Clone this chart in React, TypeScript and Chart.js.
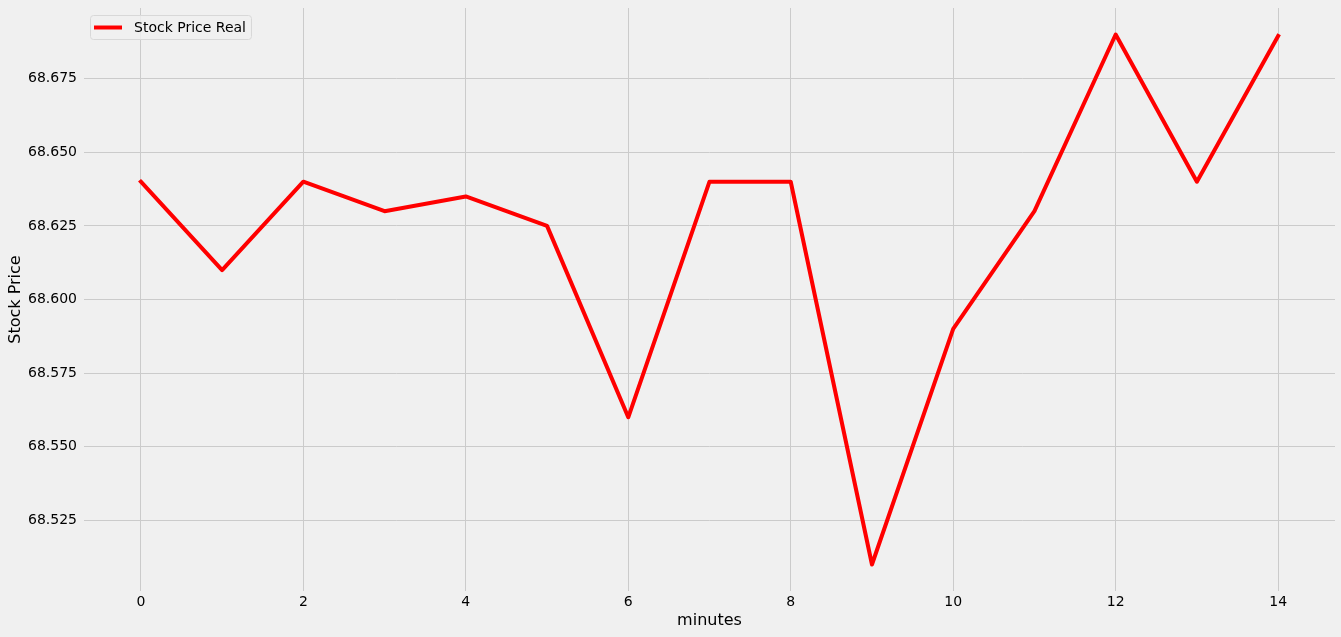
import { useEffect, useRef } from "react";
import { Chart, registerables } from "chart.js";

Chart.register(...registerables);

const MINUTES = [0, 1, 2, 3, 4, 5, 6, 7, 8, 9, 10, 11, 12, 13, 14];
const PRICES = [
  68.64, 68.61, 68.64, 68.63, 68.635, 68.625, 68.56, 68.64, 68.64, 68.51, 68.59,
  68.63, 68.69, 68.64, 68.6895,
];
const X_TICKS = [0, 2, 4, 6, 8, 10, 12, 14];
const Y_TICKS = [68.525, 68.55, 68.575, 68.6, 68.625, 68.65, 68.675];
const SERIES_LABEL = "Stock Price Real";
const X_TITLE = "minutes";
const Y_TITLE = "Stock Price";

const FONT = "'DejaVu Sans', sans-serif";

const legendPlugin = {
  id: "mplLegend",
  afterDraw(chart: any) {
    const ctx = chart.ctx as CanvasRenderingContext2D;
    const ca = chart.chartArea;
    const ds = chart.data.datasets[0];
    ctx.save();
    ctx.font = `14px ${FONT}`;
    const tw = ctx.measureText(ds.label).width;
    const x = ca.left + 6;
    const y = ca.top + 7;
    const w = 44 + tw + 5;
    const h = 24;
    ctx.beginPath();
    (ctx as any).roundRect(x + 0.5, y + 0.5, w, h, 3);
    ctx.fillStyle = "rgba(240,240,240,0.8)";
    ctx.fill();
    ctx.strokeStyle = "#d8d8d8";
    ctx.lineWidth = 1;
    ctx.stroke();
    ctx.beginPath();
    ctx.moveTo(x + 4, y + h / 2 + 0.5);
    ctx.lineTo(x + 32, y + h / 2 + 0.5);
    ctx.strokeStyle = ds.borderColor;
    ctx.lineWidth = ds.borderWidth;
    ctx.lineCap = "butt";
    ctx.stroke();
    ctx.fillStyle = "#000";
    ctx.textBaseline = "middle";
    ctx.textAlign = "left";
    ctx.fillText(ds.label, x + 44, y + h / 2 + 1);
    ctx.restore();
  },
};

export default function App() {
  const ref = useRef<HTMLCanvasElement | null>(null);

  useEffect(() => {
    if (!ref.current) return;
    const xMin = Math.min(...MINUTES);
    const xMax = Math.max(...MINUTES);
    const xPad = (xMax - xMin) * 0.05;
    const yMin = Math.min(...PRICES);
    const yMax = Math.max(...PRICES);
    const yPad = (yMax - yMin) * 0.05;

    const chart = new Chart(ref.current, {
      type: "line",
      data: {
        datasets: [
          {
            label: SERIES_LABEL,
            data: MINUTES.map((m, i) => ({ x: m, y: PRICES[i] })),
            borderColor: "#ff0000",
            backgroundColor: "#ff0000",
            borderWidth: 4,
            borderJoinStyle: "round",
            borderCapStyle: "square",
            pointRadius: 0,
            tension: 0,
            fill: false,
          },
        ],
      },
      options: {
        responsive: false,
        animation: false,
        devicePixelRatio: 1,
        layout: { padding: { top: 8, right: 6, left: 0, bottom: 0 } },
        plugins: {
          legend: { display: false },
          tooltip: { enabled: false },
        },
        scales: {
          x: {
            type: "linear",
            min: xMin - xPad,
            max: xMax + xPad,
            afterFit: (s: any) => {
              s.height = 46;
              s.paddingLeft = 0;
              s.paddingRight = 0;
            },
            afterBuildTicks: (s: any) => {
              s.ticks = X_TICKS.map((v) => ({ value: v }));
            },
            grid: { color: "#cbcbcb", lineWidth: 1, drawTicks: false },
            border: { display: false },
            ticks: {
              padding: 3,
              color: "#000",
              font: { family: FONT, size: 14 },
              maxRotation: 0,
              callback: (v: any) => String(v),
            },
            title: {
              display: true,
              text: X_TITLE,
              color: "#000",
              font: { family: FONT, size: 16 },
              padding: { top: 0, bottom: 7 },
            },
          },
          y: {
            type: "linear",
            min: yMin - yPad,
            max: yMax + yPad,
            afterFit: (s: any) => {
              s.width = 84;
              s.paddingTop = 0;
              s.paddingBottom = 0;
            },
            afterBuildTicks: (s: any) => {
              s.ticks = Y_TICKS.map((v) => ({ value: v }));
            },
            grid: { color: "#cbcbcb", lineWidth: 1, drawTicks: false },
            border: { display: false },
            ticks: {
              padding: 7,
              color: "#000",
              font: { family: FONT, size: 14 },
              callback: (v: any) => Number(v).toFixed(3),
            },
            title: {
              display: true,
              text: Y_TITLE,
              color: "#000",
              font: { family: FONT, size: 16 },
              padding: { top: 6, bottom: 0 },
            },
          },
        },
      },
      plugins: [legendPlugin],
    } as any);
    return () => chart.destroy();
  }, []);

  return (
    <div
      style={{
        position: "fixed",
        left: 0,
        top: 0,
        width: 1341,
        height: 637,
        background: "#f0f0f0",
      }}
    >
      <canvas
        ref={ref}
        width={1341}
        height={637}
        style={{ display: "block", width: 1341, height: 637 }}
      />
    </div>
  );
}
